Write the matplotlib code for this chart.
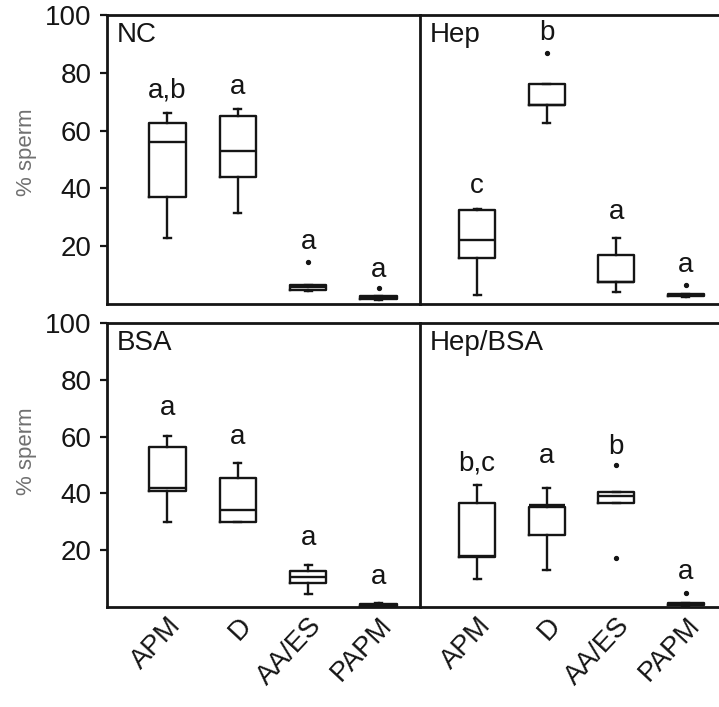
import matplotlib
matplotlib.use("Agg")
import matplotlib.pyplot as plt

plt.rcParams['font.family'] = ['Liberation Sans', 'DejaVu Sans']

stages = ["APM", "D", "AA/ES", "PAPM"]
panels = ["NC", "Hep", "BSA", "Hep/BSA"]

# box statistics per panel, one entry per stage
whislo = {
    "NC": [22.8, 31.5, 4.6, 1.5],
    "Hep": [3.0, 62.6, 4.2, 2.5],
    "BSA": [30.0, 30.0, 4.6, 0.3],
    "Hep/BSA": [10.0, 13.0, 36.5, 0.5],
}
q1 = {
    "NC": [37.0, 44.0, 5.0, 1.8],
    "Hep": [16.0, 69.0, 7.6, 2.6],
    "BSA": [41.0, 30.0, 8.3, 0.3],
    "Hep/BSA": [17.7, 25.4, 36.5, 0.6],
}
med = {
    "NC": [56.0, 53.0, 5.8, 2.4],
    "Hep": [22.0, 69.0, 7.6, 3.0],
    "BSA": [42.0, 34.0, 10.7, 0.8],
    "Hep/BSA": [18.0, 36.0, 39.0, 1.0],
}
q3 = {
    "NC": [62.6, 65.0, 6.5, 2.6],
    "Hep": [32.5, 76.0, 17.0, 3.4],
    "BSA": [56.4, 45.4, 12.8, 1.2],
    "Hep/BSA": [36.5, 35.3, 40.6, 1.4],
}
whishi = {
    "NC": [66.0, 67.5, 6.5, 2.6],
    "Hep": [33.0, 76.0, 23.0, 3.4],
    "BSA": [60.2, 50.7, 14.8, 1.5],
    "Hep/BSA": [43.0, 42.0, 40.6, 1.4],
}
fliers = {
    "NC": [[], [], [14.6], [5.4]],
    "Hep": [[], [87.0], [], [6.6]],
    "BSA": [[], [], [], []],
    "Hep/BSA": [[], [], [50.0, 17.2], [4.8]],
}
letters = {
    "NC": ["a,b", "a", "a", "a"],
    "Hep": ["c", "b", "a", "a"],
    "BSA": ["a", "a", "a", "a"],
    "Hep/BSA": ["b,c", "a", "b", "a"],
}
letter_y = {
    "NC": [74, 75, 21.5, 11.8],
    "Hep": [41, 93.7, 32, 13.5],
    "BSA": [70, 60, 24.3, 10.7],
    "Hep/BSA": [50.7, 53, 56.4, 12.4],
}

W, H = 719, 707
fig = plt.figure(figsize=(W / 100, H / 100), dpi=100)
ink = '#151515'

# pixel boxes [left, top, right, bottom]
boxes = {
    "NC": (107, 15, 420, 304),
    "Hep": (420, 15, 722, 304),
    "BSA": (107, 323, 420, 607),
    "Hep/BSA": (420, 323, 722, 607),
}
xlims = {"NC": (0.14, 4.59), "Hep": (0.18, 4.52),
         "BSA": (0.14, 4.59), "Hep/BSA": (0.18, 4.52)}
ylab_y = {"NC": 0.526, "BSA": 0.55}

for name in panels:
    l, t, r, b = boxes[name]
    ax = fig.add_axes([l / W, 1 - b / H, (r - l) / W, (b - t) / H])
    stats = []
    for i, s in enumerate(stages):
        stats.append(dict(label=s, whislo=whislo[name][i], q1=q1[name][i],
                          med=med[name][i], q3=q3[name][i],
                          whishi=whishi[name][i], fliers=fliers[name][i]))
    lw = 1.7
    ax.bxp(stats, positions=range(1, 5), widths=0.52, capwidths=0.1,
           boxprops=dict(color=ink, linewidth=lw),
           medianprops=dict(color=ink, linewidth=lw),
           whiskerprops=dict(color=ink, linewidth=lw),
           capprops=dict(color=ink, linewidth=lw),
           flierprops=dict(marker='o', markersize=2.8, markerfacecolor=ink,
                           markeredgecolor=ink))
    for i in range(4):
        ax.text(i + 1, letter_y[name][i], letters[name][i], ha='center',
                va='center', fontsize=20, color=ink)
    ax.text(0.032, 0.975, name, transform=ax.transAxes, ha='left', va='top',
            fontsize=20, color=ink)
    ax.set_ylim(0, 100)
    ax.set_xlim(*xlims[name])
    for sp in ax.spines.values():
        sp.set_linewidth(2.0)
        sp.set_color(ink)
    ax.spines['right'].set_visible(False)
    ax.tick_params(axis='x', length=0, pad=4)
    if name in ("NC", "BSA"):
        ax.set_yticks([20, 40, 60, 80, 100])
        ax.tick_params(axis='y', direction='out', length=5, width=1.6,
                       labelsize=20, pad=6, colors=ink)
        ax.set_ylabel("% sperm", fontsize=16, color='#707070')
        ax.yaxis.set_label_coords(-0.224, ylab_y[name])
    else:
        ax.set_yticks([])
    if name in ("BSA", "Hep/BSA"):
        ax.set_xticks(range(1, 5))
        ax.set_xticklabels(stages, rotation=47, ha='right',
                           rotation_mode='anchor', fontsize=20, color=ink)
    else:
        ax.set_xticks([])

fig.savefig("out.png", dpi=100)
